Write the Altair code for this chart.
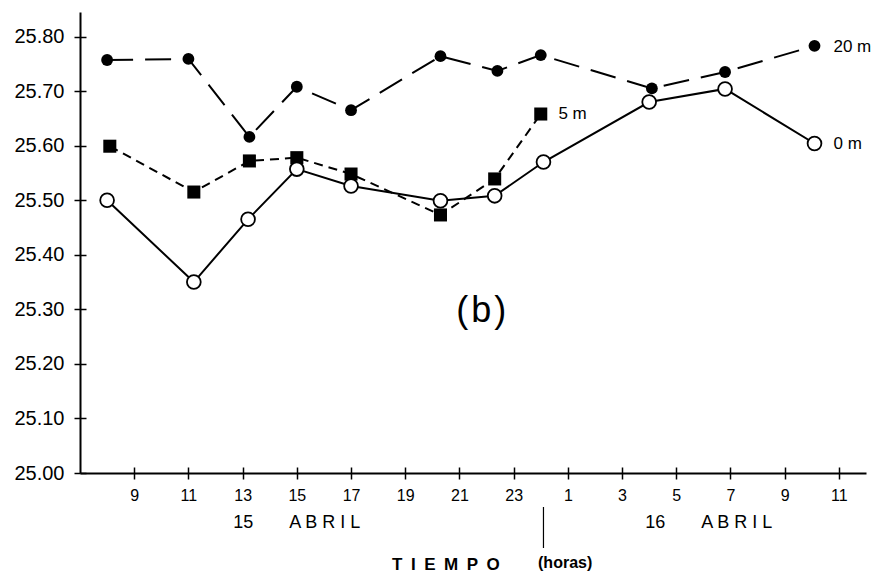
import altair as alt
import pandas as pd

# ---- data ----
hours_20 = [8.0, 11.0, 13.25, 15.0, 17.0, 20.3, 22.4, 24.0, 28.1, 30.8, 34.1]
vals_20 = [25.757, 25.759, 25.616, 25.708, 25.665, 25.764, 25.737, 25.766, 25.705, 25.735, 25.783]

hours_5 = [8.1, 11.2, 13.25, 15.0, 17.0, 20.3, 22.3, 24.0]
vals_5 = [25.599, 25.515, 25.572, 25.578, 25.548, 25.473, 25.539, 25.658]

hours_0 = [8.0, 11.2, 13.2, 15.0, 17.0, 20.3, 22.3, 24.1, 28.0, 30.8, 34.1]
vals_0 = [25.50, 25.35, 25.465, 25.557, 25.526, 25.499, 25.508, 25.570, 25.680, 25.704, 25.604]

x_ticks = [9, 11, 13, 15, 17, 19, 21, 23, 25, 27, 29, 31, 33, 35]
y_ticks = [25.0, 25.1, 25.2, 25.3, 25.4, 25.5, 25.6, 25.7, 25.8]

series_labels = ["20 m", "5 m", "0 m"]
series_label_x = [34.8, 24.65, 34.8]
series_label_y = [25.781, 25.658, 25.603]

date_labels = ["15\u2003\u2003A B R I L", "16\u2003\u2003A B R I L"]
date_label_x = [15.0, 30.2]

title_main = "T\u2002I\u2002E\u2002M\u2002P\u2002O"
title_unit = "(horas)"
panel_label = "(\u200ab\u200a)"

FONT = "Liberation Sans"

df20 = pd.DataFrame({"h": hours_20, "v": vals_20})
df5 = pd.DataFrame({"h": hours_5, "v": vals_5})
df0 = pd.DataFrame({"h": hours_0, "v": vals_0})
df_lab = pd.DataFrame({"h": series_label_x, "v": series_label_y, "t": series_labels})
df_date = pd.DataFrame({"h": date_label_x, "t": date_labels})

xs = alt.Scale(domain=[7, 36], nice=False, zero=False)
ys = alt.Scale(domain=[25.0, 25.845], nice=False, zero=False)

x_axis = alt.Axis(values=x_ticks, labelExpr="datum.value > 24 ? datum.value - 24 : datum.value",
                  title=None, grid=False, labelFontSize=16, labelPadding=8, orient="bottom")
y_axis = alt.Axis(values=y_ticks, format=".2f", title=None, grid=False,
                  labelFontSize=20, labelPadding=10, orient="left")

# inner half of the crossing ticks
x_axis_in = alt.Axis(values=x_ticks, title=None, grid=False, labels=False, domain=False,
                     orient="bottom", offset=-6)
y_axis_in = alt.Axis(values=y_ticks, title=None, grid=False, labels=False, domain=False,
                     orient="left", offset=-6)

X = alt.X("h:Q", scale=xs, axis=x_axis)
Y = alt.Y("v:Q", scale=ys, axis=y_axis)
Xn = alt.X("h:Q", scale=xs, axis=None)
Yn = alt.Y("v:Q", scale=ys, axis=None)

line20 = alt.Chart(df20).mark_line(color="black", strokeWidth=2, strokeDash=[26, 12]).encode(x=X, y=Y)
inner = alt.Chart(df20).mark_point(opacity=0).encode(
    x=alt.X("h:Q", scale=xs, axis=x_axis_in), y=alt.Y("v:Q", scale=ys, axis=y_axis_in))
pts20 = alt.Chart(df20).mark_point(shape="circle", filled=True, color="black", size=140, opacity=1).encode(x=Xn, y=Yn)

line5 = alt.Chart(df5).mark_line(color="black", strokeWidth=2, strokeDash=[9, 6]).encode(x=Xn, y=Yn)
pts5 = alt.Chart(df5).mark_point(shape="square", filled=True, color="black", size=170, opacity=1).encode(x=Xn, y=Yn)

line0 = alt.Chart(df0).mark_line(color="black", strokeWidth=2).encode(x=Xn, y=Yn)
pts0 = alt.Chart(df0).mark_point(shape="circle", filled=True, fill="white", stroke="black",
                                 strokeWidth=1.8, size=190, opacity=1).encode(x=Xn, y=Yn)

labels = alt.Chart(df_lab).mark_text(align="left", baseline="middle", fontSize=17, font=FONT,
                                     color="black").encode(x=Xn, y=Yn, text="t:N")

dates = alt.Chart(df_date).mark_text(align="center", baseline="middle", fontSize=18, font=FONT,
                                     color="black").encode(x=Xn, y=alt.value(511), text="t:N")

midnight = alt.Chart(pd.DataFrame({"h": [24.1]})).mark_rule(color="black", strokeWidth=1.2).encode(
    x=Xn, y=alt.value(495), y2=alt.value(536))

tmain = alt.Chart(pd.DataFrame({"h": [20.5], "t": [title_main]})).mark_text(
    align="center", baseline="middle", fontSize=17, fontWeight="bold", font=FONT, color="black"
).encode(x=Xn, y=alt.value(553), text="t:N")
tunit = alt.Chart(pd.DataFrame({"h": [24.9], "t": [title_unit]})).mark_text(
    align="center", baseline="middle", fontSize=16, fontWeight="bold", font=FONT, color="black"
).encode(x=Xn, y=alt.value(551), text="t:N")

panel = alt.Chart(pd.DataFrame({"h": [21.8], "v": [25.297], "t": [panel_label]})).mark_text(
    align="center", baseline="middle", fontSize=36, font=FONT, color="black"
).encode(x=Xn, y=Yn, text="t:N")

chart = alt.layer(line20, inner, line5, line0, pts20, pts5, pts0, labels, dates, midnight,
                  tmain, tunit, panel).resolve_axis(x="independent", y="independent").properties(
    width=786, height=461,
    autosize=alt.AutoSizeParams(type="none"),
    padding={"left": 80, "top": 12, "right": 16, "bottom": 104},
    background="white",
).configure_view(stroke=None).configure_axis(
    domainColor="black", domainWidth=2, tickColor="black", tickWidth=1.5, tickSize=6,
    labelColor="black", labelFont=FONT,
)

chart.save("out.html", embed_options={"renderer": "svg", "actions": False})
